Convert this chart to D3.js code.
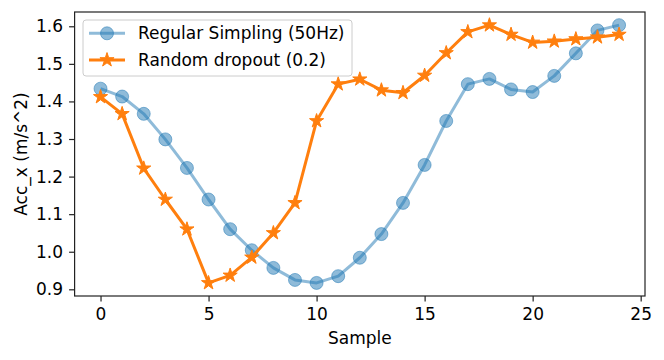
<!DOCTYPE html>
<html>
<head>
<meta charset="utf-8">
<script src="https://cdn.jsdelivr.net/npm/d3@7"></script>
<style>
  body { margin: 0; background: #fff; }
  text { font-family: "DejaVu Sans", sans-serif; fill: #000; }
</style>
</head>
<body>
<script>
// data
var samples = d3.range(0, 25);
var regular = [1.434, 1.413, 1.367, 1.299, 1.223, 1.139, 1.060, 1.004, 0.957, 0.925,
  0.917, 0.935, 0.984, 1.047, 1.130, 1.231, 1.348, 1.446, 1.460, 1.432,
  1.425, 1.468, 1.528, 1.589, 1.603];
var dropout = [1.412, 1.367, 1.222, 1.139, 1.060, 0.917, 0.937, 0.985, 1.050, 1.130,
  1.348, 1.446, 1.459, 1.430, 1.423, 1.469, 1.529, 1.585, 1.603, 1.578,
  1.557, 1.560, 1.566, 1.571, 1.578];
var xTicks = [0, 5, 10, 15, 20, 25];
var yTicks = [0.9, 1.0, 1.1, 1.2, 1.3, 1.4, 1.5, 1.6];
var labels = ["Regular Simpling (50Hz)", "Random dropout (0.2)"];

var breedte = 664, hoogte = 360;
var marge = {links: 74.6, rechts: 19, boven: 12, beneden: 64};
var blauw = "#1f77b4", oranje = "#ff7f0e";
var fontSize = "17px";

var svg = d3.select("body").append("svg")
  .attr("width", breedte).attr("height", hoogte);

var x = d3.scaleLinear().domain([-1.2, 25.2])
  .range([marge.links, breedte - marge.rechts]);
var y = d3.scaleLinear().domain([0.8822, 1.638])
  .range([hoogte - marge.beneden, marge.boven]);

var lijn = d3.line()
  .x(function(d, i) { return x(samples[i]); })
  .y(function(d) { return y(d); });

// blue series, alpha 0.5
svg.append("path").datum(regular)
  .attr("d", lijn).attr("fill", "none")
  .attr("stroke", blauw).attr("stroke-width", 3)
  .attr("stroke-opacity", 0.5).attr("stroke-linejoin", "round");

svg.append("g").selectAll("circle")
  .data(regular).enter().append("circle")
  .attr("cx", function(d, i) { return x(samples[i]); })
  .attr("cy", function(d) { return y(d); })
  .attr("r", 6.5)
  .attr("fill", blauw).attr("fill-opacity", 0.5)
  .attr("stroke", blauw).attr("stroke-opacity", 0.5).attr("stroke-width", 1);

// orange series
svg.append("path").datum(dropout)
  .attr("d", lijn).attr("fill", "none")
  .attr("stroke", oranje).attr("stroke-width", 3)
  .attr("stroke-linejoin", "round");

var ster = d3.symbol().type(d3.symbolStar).size(62);
svg.append("g").selectAll("path")
  .data(dropout).enter().append("path")
  .attr("d", ster)
  .attr("transform", function(d, i) {
    return "translate(" + x(samples[i]) + "," + y(d) + ")"; })
  .attr("fill", oranje).attr("stroke", oranje).attr("stroke-width", 1);

// axes
var asX = d3.axisBottom(x).tickValues(xTicks).tickSize(5.5).tickPadding(6.5)
  .tickFormat(d3.format("d"));
var gx = svg.append("g")
  .attr("transform", "translate(0," + (hoogte - marge.beneden) + ")")
  .call(asX);
var asY = d3.axisLeft(y).tickValues(yTicks).tickSize(5.5).tickPadding(6)
  .tickFormat(d3.format(".1f"));
var gy = svg.append("g")
  .attr("transform", "translate(" + marge.links + ",0)")
  .call(asY);
[gx, gy].forEach(function(g) {
  g.select(".domain").remove();
  g.selectAll(".tick line").attr("stroke", "#222").attr("stroke-width", 1.2);
  g.selectAll(".tick text").attr("font-size", fontSize)
    .attr("font-family", "DejaVu Sans").attr("fill", "#000");
});

// frame
svg.append("rect")
  .attr("x", marge.links).attr("y", marge.boven)
  .attr("width", breedte - marge.rechts - marge.links)
  .attr("height", hoogte - marge.beneden - marge.boven)
  .attr("fill", "none").attr("stroke", "#222").attr("stroke-width", 1.2);

// axis titles
svg.append("text")
  .attr("x", (marge.links + breedte - marge.rechts) / 2)
  .attr("y", 344)
  .attr("text-anchor", "middle").attr("font-size", fontSize)
  .text("Sample");

svg.append("text")
  .attr("transform", "translate(27," + ((marge.boven + hoogte - marge.beneden) / 2) + ") rotate(-90)")
  .attr("text-anchor", "middle").attr("font-size", fontSize)
  .text("Acc_x (m/s^2)");

// legend
var legend = svg.append("g");
legend.append("rect")
  .attr("x", 83).attr("y", 20).attr("width", 269).attr("height", 56)
  .attr("rx", 3)
  .attr("fill", "#fff").attr("fill-opacity", 0.8)
  .attr("stroke", "#ccc").attr("stroke-width", 1);

var rijY = [33.3, 60];
legend.append("line")
  .attr("x1", 89).attr("x2", 125).attr("y1", rijY[0]).attr("y2", rijY[0])
  .attr("stroke", blauw).attr("stroke-width", 3).attr("stroke-opacity", 0.5);
legend.append("circle")
  .attr("cx", 107).attr("cy", rijY[0]).attr("r", 6.5)
  .attr("fill", blauw).attr("fill-opacity", 0.5)
  .attr("stroke", blauw).attr("stroke-opacity", 0.5);
legend.append("line")
  .attr("x1", 89).attr("x2", 125).attr("y1", rijY[1]).attr("y2", rijY[1])
  .attr("stroke", oranje).attr("stroke-width", 3);
legend.append("path")
  .attr("d", ster)
  .attr("transform", "translate(107," + rijY[1] + ")")
  .attr("fill", oranje).attr("stroke", oranje);

legend.selectAll("text.lbl")
  .data(labels).enter().append("text")
  .attr("class", "lbl")
  .attr("x", 138)
  .attr("y", function(d, i) { return rijY[i]; })
  .attr("dy", "0.36em")
  .attr("font-size", fontSize)
  .text(function(d) { return d; });
</script>
</body>
</html>
